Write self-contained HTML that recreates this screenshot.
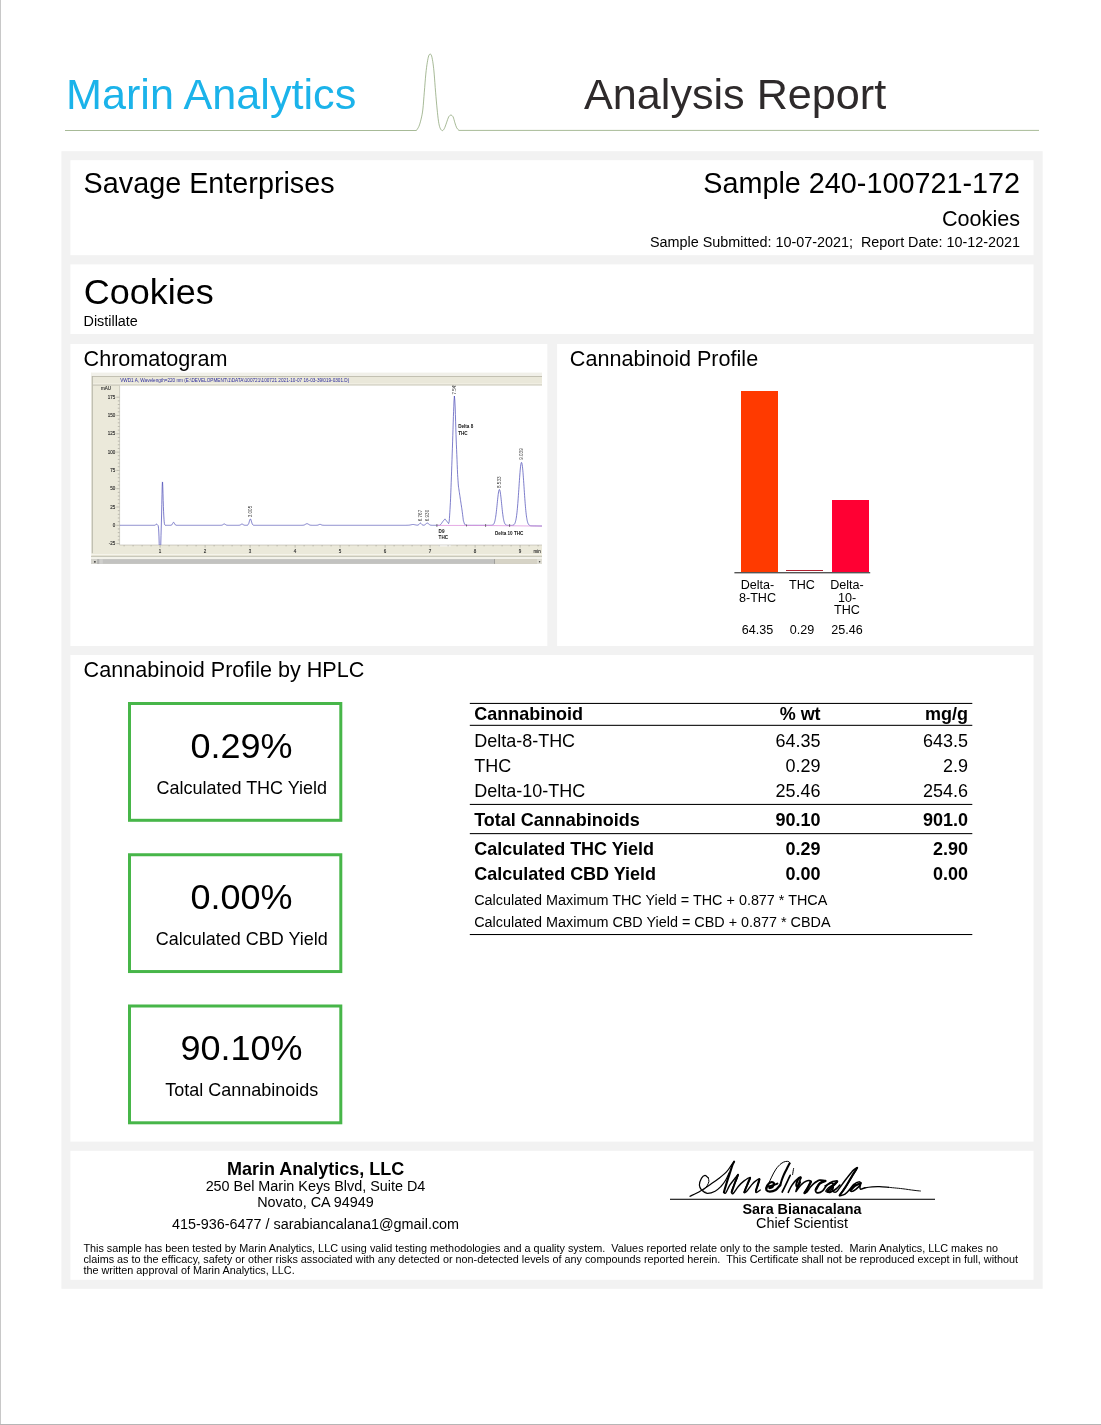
<!DOCTYPE html>
<html><head><meta charset="utf-8">
<style>
html,body{margin:0;padding:0;background:#fff;overflow:hidden;}
body{width:1101px;height:1425px;position:relative;overflow:hidden;font-family:"Liberation Sans",sans-serif;color:#000;}
.a{position:absolute;white-space:pre;line-height:1;}
#w{position:absolute;left:0;top:0;width:1101px;height:1425px;will-change:transform;overflow:hidden;}
.p{position:absolute;background:#fff;}
svg{position:absolute;overflow:visible;}
</style></head><body>
<div id="w"><svg style="left:0;top:0" width="1101" height="1425">
<rect x="0" y="0" width="1" height="1425" fill="#c8c8c8"/>
<rect x="0" y="1424" width="1101" height="1" fill="#b6b6b6"/>
<path d="M65 130.5H416.4C416.8 129.7 418.1 128.3 418.9 126.4C419.7 124.5 420.4 122.0 421.1 119.1C421.8 116.2 422.4 113.5 422.9 109.0C423.4 104.5 423.8 98.0 424.3 92.2C424.8 86.4 425.3 79.1 425.8 74.1C426.3 69.1 426.8 65.4 427.3 62.4C427.8 59.4 428.2 57.3 428.7 55.9C429.2 54.5 429.7 54.1 430.2 54.1C430.7 54.1 431.1 54.3 431.6 55.9C432.1 57.5 432.7 60.9 433.1 63.9C433.5 66.9 433.8 69.4 434.2 74.1C434.6 78.8 435.1 86.4 435.6 92.2C436.1 98.0 436.6 104.2 437.1 109.0C437.6 113.8 438.0 118.2 438.5 121.3C439.0 124.4 439.4 126.2 440.0 127.8C440.6 129.3 441.5 130.5 442.2 130.6C442.9 130.7 443.6 129.9 444.3 128.6C445.0 127.3 445.8 124.8 446.5 122.8C447.2 120.8 448.0 118.2 448.7 116.9C449.4 115.6 450.2 115.1 450.9 115.1C451.6 115.1 452.4 115.6 453.1 116.9C453.8 118.2 454.3 121.0 454.9 122.8C455.5 124.6 456.0 126.5 456.7 127.8C457.4 129.1 458.5 130.0 458.9 130.4H1039" fill="none" stroke="#7d9a66" stroke-width="0.68"/>
<rect x="61.4" y="151.2" width="981.3" height="1137.6" fill="#f2f2f2"/>
<rect x="70.4" y="160.2" width="963.1" height="95" fill="#fff"/>
<rect x="70.4" y="264.4" width="963.1" height="69.6" fill="#fff"/>
<rect x="70.4" y="344" width="476.9" height="302" fill="#fff"/>
<rect x="557.1" y="344" width="476.4" height="302" fill="#fff"/>
<rect x="70.4" y="655" width="963.1" height="486.6" fill="#fff"/>
<rect x="70.4" y="1150.8" width="963.1" height="129" fill="#fff"/>
<rect x="741" y="391" width="37" height="181" fill="#ff3a00"/>
<rect x="786" y="570" width="37" height="1" fill="#b02030"/>
<rect x="832" y="500" width="37" height="72" fill="#ff0033"/>
<rect x="734.4" y="572" width="135.8" height="1.4" fill="#555"/>
<rect x="129.5" y="703.5" width="211.3" height="116.8" fill="#fff" stroke="#47b649" stroke-width="3"/>
<rect x="129.5" y="854.75" width="211.3" height="116.8" fill="#fff" stroke="#47b649" stroke-width="3"/>
<rect x="129.5" y="1006.0" width="211.3" height="116.8" fill="#fff" stroke="#47b649" stroke-width="3"/>
<rect x="469.8" y="702.9" width="502.5" height="1.05" fill="#000"/>
<rect x="469.8" y="724.8" width="502.5" height="1.05" fill="#000"/>
<rect x="469.8" y="803.9" width="502.5" height="1.05" fill="#000"/>
<rect x="469.8" y="833.1" width="502.5" height="1.05" fill="#000"/>
<rect x="469.8" y="934.0" width="502.5" height="1.05" fill="#000"/>
<rect x="670" y="1198.75" width="265" height="1.05" fill="#000"/>
</svg>
<div class="a" style="top:72.76px;font-size:43.17px;left:66.00px;color:#1bb3ea;">Marin Analytics</div>
<div class="a" style="top:72.76px;font-size:43.17px;left:584.00px;color:#2e2a2b;">Analysis Report</div>
<div class="a" style="top:168.64px;font-size:28.78px;left:83.60px;">Savage Enterprises</div>
<div class="a" style="top:168.64px;font-size:28.78px;right:81.00px;">Sample 240-100721-172</div>
<div class="a" style="top:208.03px;font-size:21.59px;right:81.00px;">Cookies</div>
<div class="a" style="top:235.02px;font-size:14.39px;right:81.00px;">Sample Submitted: 10-07-2021;  Report Date: 10-12-2021</div>
<div class="a" style="top:274.05px;font-size:35.98px;left:83.70px;">Cookies</div>
<div class="a" style="top:313.72px;font-size:14.39px;left:83.50px;">Distillate</div>
<div class="a" style="top:348.03px;font-size:21.59px;left:83.60px;">Chromatogram</div>
<div class="a" style="top:348.03px;font-size:21.59px;left:569.80px;">Cannabinoid Profile</div>
<div class="a" style="top:659.03px;font-size:21.59px;left:83.60px;">Cannabinoid Profile by HPLC</div>
<svg style="left:90px;top:372px" width="453" height="193" viewBox="90 372 453 193" font-family="Liberation Sans, sans-serif">
<defs><filter id="bl" x="-5%" y="-5%" width="110%" height="110%"><feGaussianBlur stdDeviation="0.35"/></filter><clipPath id="cp"><rect x="119.6" y="385.6" width="422.4" height="159.4"/></clipPath></defs>
<g filter="url(#bl)">
<rect x="91" y="372.8" width="451" height="191.1" fill="#ebe9da"/>
<rect x="91" y="372.8" width="451" height="3.4" fill="#f1f0e9"/>
<rect x="91" y="376.2" width="451" height="0.9" fill="#b9b7a9"/>
<rect x="92.8" y="377.1" width="449.2" height="6.5" fill="#eae8da"/>
<rect x="92.8" y="383.6" width="449.2" height="0.9" fill="#f9f8f1"/>
<rect x="92.8" y="384.6" width="449.2" height="0.9" fill="#b9b7a9"/>
<rect x="91" y="372.8" width="0.9" height="186" fill="#f1f0e9"/>
<rect x="91.8" y="376.2" width="0.9" height="177" fill="#b0aea2"/>
<rect x="119.6" y="385.6" width="422.4" height="159.4" fill="#fff"/>
<rect x="438.2" y="545" width="12.5" height="1.3" fill="#fff"/>
<rect x="91" y="554.1" width="451" height="0.9" fill="#f6f5ee"/>
<rect x="91" y="555.9" width="451" height="0.9" fill="#b5b3a5"/>
<rect x="91" y="556.8" width="451" height="2.3" fill="#f3f2ea"/>
<rect x="91" y="559.1" width="451" height="4.8" fill="#c2c2c0"/>
<rect x="91" y="559.1" width="6.2" height="4.8" fill="#d4d3cc"/><rect x="97.2" y="559.1" width="2.2" height="4.8" fill="#b4b4b2"/><rect x="99.4" y="559.1" width="3.4" height="4.8" fill="#cfcfcc"/><circle cx="94.9" cy="561.8" r="0.9" fill="#333"/>
<rect x="494.2" y="559.1" width="43" height="4.8" fill="#d6d3c6"/><rect x="494.2" y="559.1" width="0.7" height="4.8" fill="#8a8a8a"/>
<rect x="537" y="559.1" width="5" height="4.8" fill="#e2e0d6"/><circle cx="539.6" cy="561.8" r="0.8" fill="#444"/>
<path d="M116.4 543.60H119.6M117.8 539.94H119.6M117.8 536.28H119.6M117.8 532.62H119.6M117.8 528.96H119.6M116.4 525.30H119.6M117.8 521.64H119.6M117.8 517.98H119.6M117.8 514.32H119.6M117.8 510.66H119.6M116.4 507.00H119.6M117.8 503.34H119.6M117.8 499.68H119.6M117.8 496.02H119.6M117.8 492.36H119.6M116.4 488.70H119.6M117.8 485.04H119.6M117.8 481.38H119.6M117.8 477.72H119.6M117.8 474.06H119.6M116.4 470.40H119.6M117.8 466.74H119.6M117.8 463.08H119.6M117.8 459.42H119.6M117.8 455.76H119.6M116.4 452.10H119.6M117.8 448.44H119.6M117.8 444.78H119.6M117.8 441.12H119.6M117.8 437.46H119.6M116.4 433.80H119.6M117.8 430.14H119.6M117.8 426.48H119.6M117.8 422.82H119.6M117.8 419.16H119.6M116.4 415.50H119.6M117.8 411.84H119.6M117.8 408.18H119.6M117.8 404.52H119.6M117.8 400.86H119.6M116.4 397.20H119.6M124.10 545.0v1.4M133.10 545.0v1.4M142.10 545.0v1.4M151.10 545.0v1.4M160.10 545.0v2.6M169.10 545.0v1.4M178.10 545.0v1.4M187.10 545.0v1.4M196.10 545.0v1.4M205.10 545.0v2.6M214.10 545.0v1.4M223.10 545.0v1.4M232.10 545.0v1.4M241.10 545.0v1.4M250.10 545.0v2.6M259.10 545.0v1.4M268.10 545.0v1.4M277.10 545.0v1.4M286.10 545.0v1.4M295.10 545.0v2.6M304.10 545.0v1.4M313.10 545.0v1.4M322.10 545.0v1.4M331.10 545.0v1.4M340.10 545.0v2.6M349.10 545.0v1.4M358.10 545.0v1.4M367.10 545.0v1.4M376.10 545.0v1.4M385.10 545.0v2.6M394.10 545.0v1.4M403.10 545.0v1.4M412.10 545.0v1.4M421.10 545.0v1.4M430.10 545.0v2.6M439.10 545.0v1.4M448.10 545.0v1.4M457.10 545.0v1.4M466.10 545.0v1.4M475.10 545.0v2.6M484.10 545.0v1.4M493.10 545.0v1.4M502.10 545.0v1.4M511.10 545.0v1.4M520.10 545.0v2.6M529.10 545.0v1.4M538.10 545.0v1.4" stroke="#8c8a80" stroke-width="0.5" fill="none"/>
<path d="M119.6 385.6V545.0H542.0" stroke="#a8a69a" stroke-width="0.5" fill="none"/>
<g font-size="4.5" fill="#2a2a2a" stroke="#2a2a2a" stroke-width="0.12"><text x="110.9" y="390.1" text-anchor="end">mAU</text><text x="115.2" y="398.8" text-anchor="end">175</text><text x="115.2" y="417.1" text-anchor="end">150</text><text x="115.2" y="435.4" text-anchor="end">125</text><text x="115.2" y="453.7" text-anchor="end">100</text><text x="115.2" y="472.0" text-anchor="end">75</text><text x="115.2" y="490.3" text-anchor="end">50</text><text x="115.2" y="508.6" text-anchor="end">25</text><text x="115.2" y="526.9" text-anchor="end">0</text><text x="115.2" y="545.2" text-anchor="end">-25</text><text x="159.9" y="553.2" text-anchor="middle">1</text><text x="204.9" y="553.2" text-anchor="middle">2</text><text x="249.9" y="553.2" text-anchor="middle">3</text><text x="294.9" y="553.2" text-anchor="middle">4</text><text x="339.9" y="553.2" text-anchor="middle">5</text><text x="384.9" y="553.2" text-anchor="middle">6</text><text x="429.9" y="553.2" text-anchor="middle">7</text><text x="474.9" y="553.2" text-anchor="middle">8</text><text x="519.9" y="553.2" text-anchor="middle">9</text><text x="533.6" y="553.2">min</text></g>
<text x="120.2" y="381.7" font-size="4.9" fill="#2a2a9c" textLength="229" lengthAdjust="spacingAndGlyphs">VWD1 A, Wavelength=220 nm (E:\DEVELOPMENT\1\DATA\100721\100721 2021-10-07 16-03-39\019-0301.D)</text>
<path d="M119.60 525.30 119.80 525.30 120.00 525.30 120.20 525.30 120.40 525.30 120.60 525.30 120.80 525.30 121.00 525.30 121.20 525.30 121.40 525.30 121.60 525.30 121.80 525.30 122.00 525.30 122.20 525.30 122.40 525.30 122.60 525.30 122.80 525.30 123.00 525.30 123.20 525.30 123.40 525.30 123.60 525.30 123.80 525.30 124.00 525.30 124.20 525.30 124.40 525.30 124.60 525.30 124.80 525.30 125.00 525.30 125.20 525.30 125.40 525.30 125.60 525.30 125.80 525.30 126.00 525.30 126.20 525.30 126.40 525.30 126.60 525.30 126.80 525.30 127.00 525.30 127.20 525.30 127.40 525.30 127.60 525.30 127.80 525.30 128.00 525.30 128.20 525.30 128.40 525.30 128.60 525.30 128.80 525.30 129.00 525.30 129.20 525.30 129.40 525.30 129.60 525.30 129.80 525.30 130.00 525.30 130.20 525.30 130.40 525.30 130.60 525.30 130.80 525.30 131.00 525.30 131.20 525.30 131.40 525.30 131.60 525.30 131.80 525.30 132.00 525.30 132.20 525.30 132.40 525.30 132.60 525.30 132.80 525.30 133.00 525.30 133.20 525.30 133.40 525.30 133.60 525.30 133.80 525.30 134.00 525.30 134.20 525.30 134.40 525.30 134.60 525.30 134.80 525.30 135.00 525.30 135.20 525.30 135.40 525.30 135.60 525.30 135.80 525.30 136.00 525.30 136.20 525.30 136.40 525.30 136.60 525.30 136.80 525.30 137.00 525.30 137.20 525.30 137.40 525.30 137.60 525.30 137.80 525.30 138.00 525.30 138.20 525.30 138.40 525.30 138.60 525.30 138.80 525.30 139.00 525.30 139.20 525.30 139.40 525.30 139.60 525.30 139.80 525.30 140.00 525.30 140.20 525.30 140.40 525.30 140.60 525.30 140.80 525.30 141.00 525.30 141.20 525.30 141.40 525.30 141.60 525.30 141.80 525.30 142.00 525.30 142.20 525.30 142.40 525.30 142.60 525.30 142.80 525.30 143.00 525.30 143.20 525.30 143.40 525.30 143.60 525.30 143.80 525.30 144.00 525.30 144.20 525.30 144.40 525.30 144.60 525.30 144.80 525.30 145.00 525.30 145.20 525.30 145.40 525.30 145.60 525.30 145.80 525.30 146.00 525.30 146.20 525.30 146.40 525.30 146.60 525.30 146.80 525.30 147.00 525.30 147.20 525.30 147.40 525.30 147.60 525.30 147.80 525.30 148.00 525.30 148.20 525.30 148.40 525.30 148.60 525.30 148.80 525.30 149.00 525.30 149.20 525.30 149.40 525.30 149.60 525.30 149.80 525.30 150.00 525.30 150.20 525.30 150.40 525.30 150.60 525.30 150.80 525.30 151.00 525.30 151.20 525.30 151.40 525.30 151.60 525.30 151.80 525.30 152.00 525.30 152.20 525.30 152.40 525.30 152.60 525.30 152.80 525.30 153.00 525.30 153.20 525.30 153.40 525.30 153.60 525.30 153.80 525.30 154.00 525.30 154.20 525.30 154.40 525.29 154.60 525.28 154.80 525.25 155.00 525.21 155.20 525.13 155.40 525.02 155.60 524.86 155.80 524.67 156.00 524.46 156.20 524.28 156.40 524.15 156.60 524.10 156.80 524.15 157.00 524.28 157.20 524.47 157.40 524.68 157.60 524.89 157.80 525.12 158.00 525.42 158.20 525.94 158.40 526.95 158.60 528.84 158.80 532.05 159.00 536.93 159.20 543.45 159.40 550.95 159.60 558.13 159.80 563.37 160.00 565.30 160.20 563.37 160.40 558.10 160.60 550.82 160.80 543.03 161.00 535.71 161.20 528.96 161.40 522.05 161.60 514.04 161.80 504.58 162.00 494.63 162.20 486.34 162.40 481.95 162.60 482.47 162.80 487.09 163.00 493.78 163.20 500.66 163.40 506.73 163.60 511.78 163.80 515.95 164.00 519.30 164.20 521.79 164.40 523.46 164.60 524.44 164.80 524.94 165.00 525.17 165.20 525.26 165.40 525.29 165.60 525.30 165.80 525.30 166.00 525.30 166.20 525.30 166.40 525.30 166.60 525.30 166.80 525.30 167.00 525.30 167.20 525.30 167.40 525.30 167.60 525.30 167.80 525.30 168.00 525.30 168.20 525.30 168.40 525.30 168.60 525.30 168.80 525.30 169.00 525.30 169.20 525.30 169.40 525.30 169.60 525.30 169.80 525.30 170.00 525.30 170.20 525.30 170.40 525.29 170.60 525.29 170.80 525.27 171.00 525.25 171.20 525.20 171.40 525.13 171.60 525.02 171.80 524.86 172.00 524.64 172.20 524.36 172.40 524.02 172.60 523.64 172.80 523.25 173.00 522.88 173.20 522.57 173.40 522.37 173.60 522.30 173.80 522.37 174.00 522.57 174.20 522.88 174.40 523.25 174.60 523.64 174.80 524.02 175.00 524.36 175.20 524.64 175.40 524.86 175.60 525.02 175.80 525.13 176.00 525.20 176.20 525.25 176.40 525.27 176.60 525.29 176.80 525.29 177.00 525.30 177.20 525.30 177.40 525.30 177.60 525.30 177.80 525.30 178.00 525.30 178.20 525.30 178.40 525.30 178.60 525.30 178.80 525.30 179.00 525.30 179.20 525.30 179.40 525.30 179.60 525.30 179.80 525.30 180.00 525.30 180.20 525.30 180.40 525.30 180.60 525.30 180.80 525.30 181.00 525.30 181.20 525.30 181.40 525.30 181.60 525.30 181.80 525.30 182.00 525.30 182.20 525.30 182.40 525.30 182.60 525.30 182.80 525.30 183.00 525.30 183.20 525.30 183.40 525.30 183.60 525.30 183.80 525.30 184.00 525.30 184.20 525.30 184.40 525.30 184.60 525.30 184.80 525.30 185.00 525.30 185.20 525.30 185.40 525.30 185.60 525.30 185.80 525.30 186.00 525.30 186.20 525.30 186.40 525.30 186.60 525.30 186.80 525.30 187.00 525.30 187.20 525.30 187.40 525.30 187.60 525.30 187.80 525.30 188.00 525.30 188.20 525.30 188.40 525.30 188.60 525.30 188.80 525.30 189.00 525.30 189.20 525.30 189.40 525.30 189.60 525.30 189.80 525.30 190.00 525.30 190.20 525.30 190.40 525.30 190.60 525.30 190.80 525.30 191.00 525.30 191.20 525.30 191.40 525.30 191.60 525.30 191.80 525.30 192.00 525.30 192.20 525.30 192.40 525.30 192.60 525.30 192.80 525.30 193.00 525.30 193.20 525.30 193.40 525.30 193.60 525.30 193.80 525.30 194.00 525.30 194.20 525.30 194.40 525.30 194.60 525.30 194.80 525.30 195.00 525.30 195.20 525.30 195.40 525.30 195.60 525.30 195.80 525.30 196.00 525.30 196.20 525.30 196.40 525.30 196.60 525.30 196.80 525.30 197.00 525.30 197.20 525.30 197.40 525.30 197.60 525.30 197.80 525.30 198.00 525.30 198.20 525.30 198.40 525.30 198.60 525.30 198.80 525.30 199.00 525.30 199.20 525.30 199.40 525.30 199.60 525.30 199.80 525.30 200.00 525.30 200.20 525.30 200.40 525.30 200.60 525.30 200.80 525.30 201.00 525.30 201.20 525.30 201.40 525.30 201.60 525.30 201.80 525.30 202.00 525.30 202.20 525.30 202.40 525.30 202.60 525.30 202.80 525.30 203.00 525.30 203.20 525.30 203.40 525.30 203.60 525.30 203.80 525.30 204.00 525.30 204.20 525.30 204.40 525.30 204.60 525.30 204.80 525.30 205.00 525.30 205.20 525.30 205.40 525.30 205.60 525.30 205.80 525.30 206.00 525.30 206.20 525.30 206.40 525.30 206.60 525.30 206.80 525.30 207.00 525.30 207.20 525.30 207.40 525.30 207.60 525.30 207.80 525.30 208.00 525.30 208.20 525.30 208.40 525.30 208.60 525.30 208.80 525.30 209.00 525.30 209.20 525.30 209.40 525.30 209.60 525.30 209.80 525.30 210.00 525.30 210.20 525.30 210.40 525.30 210.60 525.30 210.80 525.30 211.00 525.30 211.20 525.30 211.40 525.30 211.60 525.30 211.80 525.30 212.00 525.30 212.20 525.30 212.40 525.30 212.60 525.30 212.80 525.30 213.00 525.30 213.20 525.30 213.40 525.30 213.60 525.30 213.80 525.30 214.00 525.30 214.20 525.30 214.40 525.30 214.60 525.30 214.80 525.30 215.00 525.30 215.20 525.30 215.40 525.30 215.60 525.30 215.80 525.30 216.00 525.30 216.20 525.30 216.40 525.30 216.60 525.30 216.80 525.30 217.00 525.30 217.20 525.30 217.40 525.30 217.60 525.30 217.80 525.30 218.00 525.30 218.20 525.30 218.40 525.30 218.60 525.30 218.80 525.30 219.00 525.30 219.20 525.30 219.40 525.30 219.60 525.30 219.80 525.30 220.00 525.30 220.20 525.30 220.40 525.30 220.60 525.29 220.80 525.29 221.00 525.28 221.20 525.27 221.40 525.25 221.60 525.22 221.80 525.19 222.00 525.14 222.20 525.07 222.40 524.98 222.60 524.88 222.80 524.76 223.00 524.63 223.20 524.49 223.40 524.35 223.60 524.23 223.80 524.12 224.00 524.04 224.20 524.01 224.40 524.01 224.60 524.04 224.80 524.12 225.00 524.23 225.20 524.35 225.40 524.49 225.60 524.63 225.80 524.76 226.00 524.88 226.20 524.98 226.40 525.07 226.60 525.14 226.80 525.19 227.00 525.22 227.20 525.25 227.40 525.27 227.60 525.28 227.80 525.29 228.00 525.29 228.20 525.30 228.40 525.30 228.60 525.30 228.80 525.30 229.00 525.30 229.20 525.30 229.40 525.30 229.60 525.30 229.80 525.30 230.00 525.30 230.20 525.30 230.40 525.30 230.60 525.30 230.80 525.30 231.00 525.30 231.20 525.30 231.40 525.30 231.60 525.30 231.80 525.30 232.00 525.30 232.20 525.30 232.40 525.30 232.60 525.30 232.80 525.30 233.00 525.30 233.20 525.30 233.40 525.30 233.60 525.30 233.80 525.30 234.00 525.30 234.20 525.30 234.40 525.30 234.60 525.30 234.80 525.30 235.00 525.30 235.20 525.30 235.40 525.30 235.60 525.30 235.80 525.30 236.00 525.30 236.20 525.30 236.40 525.30 236.60 525.30 236.80 525.30 237.00 525.30 237.20 525.30 237.40 525.30 237.60 525.30 237.80 525.30 238.00 525.30 238.20 525.30 238.40 525.29 238.60 525.29 238.80 525.28 239.00 525.26 239.20 525.24 239.40 525.21 239.60 525.17 239.80 525.12 240.00 525.05 240.20 524.96 240.40 524.86 240.60 524.74 240.80 524.62 241.00 524.49 241.20 524.37 241.40 524.26 241.60 524.17 241.80 524.12 242.00 524.10 242.20 524.12 242.40 524.17 242.60 524.26 242.80 524.37 243.00 524.49 243.20 524.62 243.40 524.74 243.60 524.86 243.80 524.96 244.00 525.05 244.20 525.12 244.40 525.17 244.60 525.21 244.80 525.24 245.00 525.26 245.20 525.28 245.40 525.29 245.60 525.29 245.80 525.30 246.00 525.30 246.20 525.30 246.40 525.29 246.60 525.29 246.80 525.28 247.00 525.26 247.20 525.23 247.40 525.18 247.60 525.11 247.80 524.99 248.00 524.81 248.20 524.57 248.40 524.24 248.60 523.81 248.80 523.28 249.00 522.66 249.20 521.98 249.40 521.26 249.60 520.56 249.80 519.93 250.00 519.43 250.20 519.11 250.40 519.00 250.60 519.11 250.80 519.43 251.00 519.93 251.20 520.56 251.40 521.26 251.60 521.98 251.80 522.66 252.00 523.28 252.20 523.81 252.40 524.24 252.60 524.57 252.80 524.81 253.00 524.99 253.20 525.11 253.40 525.18 253.60 525.23 253.80 525.26 254.00 525.28 254.20 525.29 254.40 525.29 254.60 525.30 254.80 525.30 255.00 525.30 255.20 525.30 255.40 525.30 255.60 525.30 255.80 525.30 256.00 525.30 256.20 525.30 256.40 525.30 256.60 525.30 256.80 525.30 257.00 525.30 257.20 525.30 257.40 525.30 257.60 525.30 257.80 525.30 258.00 525.30 258.20 525.30 258.40 525.30 258.60 525.30 258.80 525.30 259.00 525.30 259.20 525.30 259.40 525.30 259.60 525.30 259.80 525.30 260.00 525.30 260.20 525.30 260.40 525.30 260.60 525.30 260.80 525.30 261.00 525.30 261.20 525.30 261.40 525.30 261.60 525.30 261.80 525.30 262.00 525.30 262.20 525.30 262.40 525.30 262.60 525.30 262.80 525.30 263.00 525.30 263.20 525.30 263.40 525.30 263.60 525.30 263.80 525.30 264.00 525.30 264.20 525.30 264.40 525.30 264.60 525.30 264.80 525.30 265.00 525.30 265.20 525.30 265.40 525.30 265.60 525.30 265.80 525.30 266.00 525.30 266.20 525.30 266.40 525.30 266.60 525.30 266.80 525.30 267.00 525.30 267.20 525.30 267.40 525.30 267.60 525.30 267.80 525.30 268.00 525.30 268.20 525.30 268.40 525.30 268.60 525.30 268.80 525.30 269.00 525.30 269.20 525.30 269.40 525.30 269.60 525.30 269.80 525.30 270.00 525.30 270.20 525.30 270.40 525.30 270.60 525.30 270.80 525.30 271.00 525.30 271.20 525.30 271.40 525.30 271.60 525.30 271.80 525.30 272.00 525.30 272.20 525.30 272.40 525.30 272.60 525.30 272.80 525.30 273.00 525.30 273.20 525.30 273.40 525.30 273.60 525.30 273.80 525.30 274.00 525.30 274.20 525.30 274.40 525.30 274.60 525.30 274.80 525.30 275.00 525.30 275.20 525.30 275.40 525.30 275.60 525.30 275.80 525.30 276.00 525.30 276.20 525.30 276.40 525.30 276.60 525.30 276.80 525.30 277.00 525.30 277.20 525.30 277.40 525.30 277.60 525.30 277.80 525.30 278.00 525.30 278.20 525.30 278.40 525.30 278.60 525.30 278.80 525.30 279.00 525.30 279.20 525.30 279.40 525.30 279.60 525.30 279.80 525.30 280.00 525.30 280.20 525.30 280.40 525.30 280.60 525.30 280.80 525.30 281.00 525.30 281.20 525.30 281.40 525.30 281.60 525.30 281.80 525.30 282.00 525.30 282.20 525.30 282.40 525.30 282.60 525.30 282.80 525.30 283.00 525.30 283.20 525.30 283.40 525.30 283.60 525.30 283.80 525.30 284.00 525.30 284.20 525.30 284.40 525.30 284.60 525.30 284.80 525.30 285.00 525.30 285.20 525.30 285.40 525.30 285.60 525.30 285.80 525.30 286.00 525.30 286.20 525.30 286.40 525.30 286.60 525.30 286.80 525.30 287.00 525.30 287.20 525.30 287.40 525.30 287.60 525.30 287.80 525.30 288.00 525.30 288.20 525.30 288.40 525.30 288.60 525.30 288.80 525.30 289.00 525.30 289.20 525.30 289.40 525.30 289.60 525.30 289.80 525.30 290.00 525.30 290.20 525.30 290.40 525.30 290.60 525.30 290.80 525.30 291.00 525.30 291.20 525.30 291.40 525.30 291.60 525.30 291.80 525.30 292.00 525.30 292.20 525.30 292.40 525.30 292.60 525.30 292.80 525.30 293.00 525.30 293.20 525.30 293.40 525.30 293.60 525.30 293.80 525.30 294.00 525.30 294.20 525.30 294.40 525.30 294.60 525.30 294.80 525.30 295.00 525.30 295.20 525.30 295.40 525.30 295.60 525.30 295.80 525.30 296.00 525.30 296.20 525.30 296.40 525.30 296.60 525.30 296.80 525.30 297.00 525.30 297.20 525.30 297.40 525.30 297.60 525.30 297.80 525.30 298.00 525.30 298.20 525.30 298.40 525.30 298.60 525.30 298.80 525.30 299.00 525.30 299.20 525.30 299.40 525.30 299.60 525.30 299.80 525.30 300.00 525.30 300.20 525.30 300.40 525.30 300.60 525.30 300.80 525.30 301.00 525.30 301.20 525.30 301.40 525.30 301.60 525.30 301.80 525.29 302.00 525.29 302.20 525.29 302.40 525.28 302.60 525.27 302.80 525.26 303.00 525.24 303.20 525.22 303.40 525.19 303.60 525.15 303.80 525.11 304.00 525.05 304.20 524.98 304.40 524.90 304.60 524.81 304.80 524.71 305.00 524.60 305.20 524.48 305.40 524.36 305.60 524.23 305.80 524.11 306.00 524.00 306.20 523.90 306.40 523.81 306.60 523.75 306.80 523.71 307.00 523.70 307.20 523.71 307.40 523.75 307.60 523.81 307.80 523.90 308.00 524.00 308.20 524.11 308.40 524.23 308.60 524.36 308.80 524.48 309.00 524.60 309.20 524.71 309.40 524.81 309.60 524.90 309.80 524.98 310.00 525.05 310.20 525.11 310.40 525.15 310.60 525.19 310.80 525.22 311.00 525.24 311.20 525.26 311.40 525.27 311.60 525.28 311.80 525.29 312.00 525.29 312.20 525.29 312.40 525.30 312.60 525.30 312.80 525.30 313.00 525.30 313.20 525.30 313.40 525.30 313.60 525.30 313.80 525.30 314.00 525.30 314.20 525.30 314.40 525.30 314.60 525.30 314.80 525.30 315.00 525.30 315.20 525.30 315.40 525.30 315.60 525.30 315.80 525.30 316.00 525.29 316.20 525.29 316.40 525.28 316.60 525.27 316.80 525.26 317.00 525.24 317.20 525.22 317.40 525.19 317.60 525.15 317.80 525.10 318.00 525.04 318.20 524.97 318.40 524.89 318.60 524.81 318.80 524.72 319.00 524.64 319.20 524.56 319.40 524.49 319.60 524.44 319.80 524.41 320.00 524.40 320.20 524.41 320.40 524.44 320.60 524.49 320.80 524.56 321.00 524.64 321.20 524.72 321.40 524.81 321.60 524.89 321.80 524.97 322.00 525.04 322.20 525.10 322.40 525.15 322.60 525.19 322.80 525.22 323.00 525.24 323.20 525.26 323.40 525.27 323.60 525.28 323.80 525.29 324.00 525.29 324.20 525.30 324.40 525.30 324.60 525.30 324.80 525.30 325.00 525.30 325.20 525.30 325.40 525.30 325.60 525.30 325.80 525.30 326.00 525.30 326.20 525.30 326.40 525.30 326.60 525.30 326.80 525.30 327.00 525.30 327.20 525.30 327.40 525.30 327.60 525.30 327.80 525.30 328.00 525.30 328.20 525.30 328.40 525.30 328.60 525.30 328.80 525.30 329.00 525.30 329.20 525.30 329.40 525.30 329.60 525.30 329.80 525.30 330.00 525.30 330.20 525.30 330.40 525.30 330.60 525.30 330.80 525.30 331.00 525.30 331.20 525.30 331.40 525.30 331.60 525.30 331.80 525.30 332.00 525.30 332.20 525.30 332.40 525.30 332.60 525.30 332.80 525.30 333.00 525.30 333.20 525.30 333.40 525.30 333.60 525.30 333.80 525.30 334.00 525.30 334.20 525.30 334.40 525.30 334.60 525.30 334.80 525.30 335.00 525.30 335.20 525.30 335.40 525.30 335.60 525.30 335.80 525.30 336.00 525.30 336.20 525.30 336.40 525.30 336.60 525.30 336.80 525.30 337.00 525.30 337.20 525.30 337.40 525.30 337.60 525.30 337.80 525.30 338.00 525.30 338.20 525.30 338.40 525.30 338.60 525.30 338.80 525.30 339.00 525.30 339.20 525.30 339.40 525.30 339.60 525.30 339.80 525.30 340.00 525.30 340.20 525.30 340.40 525.30 340.60 525.30 340.80 525.30 341.00 525.30 341.20 525.30 341.40 525.30 341.60 525.30 341.80 525.30 342.00 525.30 342.20 525.30 342.40 525.30 342.60 525.30 342.80 525.30 343.00 525.30 343.20 525.30 343.40 525.30 343.60 525.30 343.80 525.30 344.00 525.30 344.20 525.30 344.40 525.30 344.60 525.30 344.80 525.30 345.00 525.30 345.20 525.30 345.40 525.30 345.60 525.30 345.80 525.30 346.00 525.30 346.20 525.30 346.40 525.30 346.60 525.30 346.80 525.30 347.00 525.30 347.20 525.30 347.40 525.30 347.60 525.30 347.80 525.30 348.00 525.30 348.20 525.30 348.40 525.30 348.60 525.30 348.80 525.30 349.00 525.30 349.20 525.30 349.40 525.30 349.60 525.30 349.80 525.30 350.00 525.30 350.20 525.30 350.40 525.30 350.60 525.30 350.80 525.30 351.00 525.30 351.20 525.30 351.40 525.30 351.60 525.30 351.80 525.30 352.00 525.30 352.20 525.30 352.40 525.30 352.60 525.30 352.80 525.30 353.00 525.30 353.20 525.30 353.40 525.30 353.60 525.30 353.80 525.30 354.00 525.30 354.20 525.30 354.40 525.30 354.60 525.30 354.80 525.30 355.00 525.30 355.20 525.30 355.40 525.30 355.60 525.30 355.80 525.30 356.00 525.30 356.20 525.30 356.40 525.30 356.60 525.30 356.80 525.30 357.00 525.30 357.20 525.30 357.40 525.30 357.60 525.30 357.80 525.30 358.00 525.30 358.20 525.30 358.40 525.30 358.60 525.30 358.80 525.30 359.00 525.30 359.20 525.30 359.40 525.30 359.60 525.30 359.80 525.30 360.00 525.30 360.20 525.30 360.40 525.30 360.60 525.30 360.80 525.30 361.00 525.30 361.20 525.30 361.40 525.30 361.60 525.30 361.80 525.30 362.00 525.30 362.20 525.30 362.40 525.30 362.60 525.30 362.80 525.30 363.00 525.30 363.20 525.30 363.40 525.30 363.60 525.30 363.80 525.30 364.00 525.30 364.20 525.30 364.40 525.30 364.60 525.30 364.80 525.30 365.00 525.30 365.20 525.30 365.40 525.30 365.60 525.30 365.80 525.30 366.00 525.30 366.20 525.30 366.40 525.30 366.60 525.30 366.80 525.30 367.00 525.30 367.20 525.30 367.40 525.30 367.60 525.30 367.80 525.30 368.00 525.30 368.20 525.30 368.40 525.30 368.60 525.30 368.80 525.30 369.00 525.30 369.20 525.30 369.40 525.30 369.60 525.30 369.80 525.30 370.00 525.30 370.20 525.30 370.40 525.30 370.60 525.30 370.80 525.30 371.00 525.30 371.20 525.30 371.40 525.30 371.60 525.30 371.80 525.30 372.00 525.30 372.20 525.30 372.40 525.30 372.60 525.30 372.80 525.30 373.00 525.30 373.20 525.30 373.40 525.30 373.60 525.30 373.80 525.30 374.00 525.30 374.20 525.30 374.40 525.30 374.60 525.30 374.80 525.30 375.00 525.30 375.20 525.30 375.40 525.30 375.60 525.30 375.80 525.30 376.00 525.30 376.20 525.30 376.40 525.30 376.60 525.30 376.80 525.30 377.00 525.30 377.20 525.30 377.40 525.30 377.60 525.30 377.80 525.30 378.00 525.30 378.20 525.30 378.40 525.30 378.60 525.30 378.80 525.30 379.00 525.30 379.20 525.30 379.40 525.30 379.60 525.30 379.80 525.30 380.00 525.30 380.20 525.30 380.40 525.30 380.60 525.30 380.80 525.30 381.00 525.30 381.20 525.30 381.40 525.30 381.60 525.30 381.80 525.30 382.00 525.30 382.20 525.30 382.40 525.30 382.60 525.30 382.80 525.30 383.00 525.30 383.20 525.30 383.40 525.30 383.60 525.30 383.80 525.30 384.00 525.30 384.20 525.30 384.40 525.30 384.60 525.30 384.80 525.30 385.00 525.30 385.20 525.30 385.40 525.30 385.60 525.30 385.80 525.30 386.00 525.30 386.20 525.30 386.40 525.30 386.60 525.30 386.80 525.30 387.00 525.30 387.20 525.30 387.40 525.30 387.60 525.30 387.80 525.30 388.00 525.30 388.20 525.30 388.40 525.30 388.60 525.30 388.80 525.30 389.00 525.30 389.20 525.30 389.40 525.30 389.60 525.30 389.80 525.30 390.00 525.30 390.20 525.30 390.40 525.30 390.60 525.30 390.80 525.30 391.00 525.30 391.20 525.30 391.40 525.30 391.60 525.30 391.80 525.30 392.00 525.30 392.20 525.30 392.40 525.30 392.60 525.30 392.80 525.30 393.00 525.30 393.20 525.30 393.40 525.30 393.60 525.30 393.80 525.30 394.00 525.30 394.20 525.30 394.40 525.30 394.60 525.30 394.80 525.30 395.00 525.30 395.20 525.30 395.40 525.30 395.60 525.30 395.80 525.30 396.00 525.30 396.20 525.30 396.40 525.30 396.60 525.30 396.80 525.30 397.00 525.30 397.20 525.30 397.40 525.30 397.60 525.30 397.80 525.30 398.00 525.30 398.20 525.30 398.40 525.30 398.60 525.30 398.80 525.30 399.00 525.30 399.20 525.30 399.40 525.30 399.60 525.30 399.80 525.30 400.00 525.30 400.20 525.30 400.40 525.30 400.60 525.30 400.80 525.30 401.00 525.30 401.20 525.30 401.40 525.30 401.60 525.30 401.80 525.30 402.00 525.30 402.20 525.30 402.40 525.30 402.60 525.30 402.80 525.30 403.00 525.30 403.20 525.30 403.40 525.30 403.60 525.30 403.80 525.30 404.00 525.30 404.20 525.30 404.40 525.30 404.60 525.30 404.80 525.30 405.00 525.30 405.20 525.30 405.40 525.30 405.60 525.30 405.80 525.30 406.00 525.30 406.20 525.30 406.40 525.29 406.60 525.29 406.80 525.29 407.00 525.29 407.20 525.28 407.40 525.28 407.60 525.27 407.80 525.26 408.00 525.25 408.20 525.24 408.40 525.22 408.60 525.21 408.80 525.19 409.00 525.16 409.20 525.14 409.40 525.11 409.60 525.08 409.80 525.04 410.00 525.01 410.20 524.97 410.40 524.92 410.60 524.88 410.80 524.83 411.00 524.79 411.20 524.74 411.40 524.70 411.60 524.66 411.80 524.62 412.00 524.58 412.20 524.55 412.40 524.53 412.60 524.51 412.80 524.50 413.00 524.50 413.20 524.50 413.40 524.51 413.60 524.53 413.80 524.55 414.00 524.58 414.20 524.62 414.40 524.66 414.60 524.70 414.80 524.74 415.00 524.79 415.20 524.83 415.40 524.88 415.60 524.92 415.80 524.97 416.00 525.01 416.20 525.04 416.40 525.08 416.60 525.11 416.80 525.13 417.00 525.15 417.20 525.16 417.40 525.17 417.60 525.16 417.80 525.13 418.00 525.08 418.20 525.00 418.40 524.90 418.60 524.75 418.80 524.58 419.00 524.36 419.20 524.13 419.40 523.88 419.60 523.64 419.80 523.42 420.00 523.25 420.20 523.14 420.40 523.10 420.60 523.14 420.80 523.25 421.00 523.42 421.20 523.64 421.40 523.89 421.60 524.14 421.80 524.38 422.00 524.59 422.20 524.78 422.40 524.92 422.60 525.04 422.80 525.12 423.00 525.17 423.20 525.20 423.40 525.21 423.60 525.20 423.80 525.18 424.00 525.15 424.20 525.10 424.40 525.03 424.60 524.94 424.80 524.84 425.00 524.71 425.20 524.57 425.40 524.41 425.60 524.23 425.80 524.05 426.00 523.86 426.20 523.67 426.40 523.50 426.60 523.35 426.80 523.23 427.00 523.15 427.20 523.11 427.40 523.11 427.60 523.15 427.80 523.23 428.00 523.35 428.20 523.50 428.40 523.67 428.60 523.86 428.80 524.05 429.00 524.23 429.20 524.41 429.40 524.57 429.60 524.71 429.80 524.84 430.00 524.94 430.20 525.03 430.40 525.10 430.60 525.16 430.80 525.20 431.00 525.23 431.20 525.25 431.40 525.27 431.60 525.28 431.80 525.29 432.00 525.29 432.20 525.29 432.40 525.30 432.60 525.30 432.80 525.30 433.00 525.30 433.20 525.30 433.40 525.30 433.60 525.30 433.80 525.30 434.00 525.30 434.20 525.30 434.40 525.30 434.60 525.30 434.80 525.30 435.00 525.30 435.20 525.30 435.40 525.30 435.60 525.30 435.80 525.30 436.00 525.30 436.20 525.30 436.40 525.30 436.60 525.30 436.80 525.30 437.00 525.30 437.20 525.30 437.40 525.30 437.60 525.30 437.80 525.30 438.00 525.30 438.20 525.30 438.40 525.30 438.60 525.30 438.80 525.30 439.00 525.30 439.20 525.30 439.40 525.30 439.60 525.30 439.80 525.22 440.00 525.05 440.20 524.88 440.40 524.71 440.60 524.54 440.80 524.37 441.00 524.20 441.20 523.90 441.40 523.60 441.60 523.30 441.80 523.00 442.00 522.70 442.20 522.40 442.40 522.10 442.60 521.80 442.80 521.50 443.00 521.20 443.20 520.97 443.40 520.74 443.60 520.51 443.80 520.28 444.00 520.05 444.20 519.82 444.40 519.59 444.60 519.36 444.80 519.13 445.00 518.90 445.20 519.16 445.40 519.42 445.60 519.68 445.80 519.94 446.00 520.20 446.20 520.46 446.40 520.72 446.60 520.98 446.80 521.24 447.00 521.50 447.20 521.76 447.40 522.02 447.60 522.29 447.80 522.55 448.00 522.81 448.20 523.07 448.40 523.34 448.60 523.60 448.80 522.90 449.00 522.20 449.20 521.50 449.40 518.70 449.60 515.90 449.80 512.79 450.00 509.36 450.20 505.94 450.40 502.51 450.60 498.16 450.80 492.89 451.00 487.61 451.20 482.34 451.40 476.84 451.60 471.11 451.80 465.38 452.00 459.65 452.20 453.93 452.40 448.20 452.60 441.88 452.80 435.56 453.00 429.24 453.20 422.92 453.40 416.60 453.60 411.40 453.80 406.20 454.00 401.00 454.20 398.50 454.40 396.00 454.60 398.00 454.80 400.00 455.00 404.00 455.20 408.00 455.40 414.58 455.60 421.16 455.80 427.73 456.00 434.31 456.20 440.01 456.40 444.84 456.60 449.67 456.80 454.50 457.00 459.50 457.20 464.50 457.40 469.50 457.60 474.50 457.80 477.37 458.00 480.25 458.20 483.12 458.40 486.00 458.60 487.34 458.80 488.67 459.00 490.01 459.20 491.35 459.40 492.68 459.60 494.02 459.80 495.36 460.00 496.69 460.20 498.03 460.40 499.36 460.60 500.69 460.80 502.02 461.00 503.34 461.20 504.67 461.40 505.99 461.60 507.32 461.80 508.65 462.00 509.97 462.20 511.30 462.40 512.88 462.60 514.47 462.80 516.05 463.00 517.63 463.20 519.22 463.40 520.80 463.60 521.38 463.80 521.97 464.00 522.55 464.20 523.13 464.40 523.72 464.60 524.30 464.80 524.40 465.00 524.50 465.20 524.60 465.40 524.70 465.60 524.80 465.80 524.90 466.00 525.00 466.20 525.10 466.40 525.20 466.60 525.30 466.80 525.30 467.00 525.30 467.20 525.30 467.40 525.30 467.60 525.30 467.80 525.30 468.00 525.30 468.20 525.30 468.40 525.30 468.60 525.30 468.80 525.30 469.00 525.30 469.20 525.30 469.40 525.30 469.60 525.30 469.80 525.30 470.00 525.30 470.20 525.30 470.40 525.30 470.60 525.30 470.80 525.30 471.00 525.30 471.20 525.30 471.40 525.30 471.60 525.30 471.80 525.30 472.00 525.30 472.20 525.30 472.40 525.30 472.60 525.30 472.80 525.30 473.00 525.30 473.20 525.30 473.40 525.30 473.60 525.30 473.80 525.30 474.00 525.30 474.20 525.30 474.40 525.30 474.60 525.30 474.80 525.30 475.00 525.30 475.20 525.30 475.40 525.30 475.60 525.30 475.80 525.30 476.00 525.30 476.20 525.30 476.40 525.30 476.60 525.30 476.80 525.30 477.00 525.30 477.20 525.30 477.40 525.30 477.60 525.30 477.80 525.30 478.00 525.30 478.20 525.30 478.40 525.30 478.60 525.30 478.80 525.30 479.00 525.30 479.20 525.30 479.40 525.30 479.60 525.30 479.80 525.30 480.00 525.30 480.20 525.30 480.40 525.30 480.60 525.30 480.80 525.30 481.00 525.30 481.20 525.30 481.40 525.30 481.60 525.30 481.80 525.30 482.00 525.30 482.20 525.30 482.40 525.30 482.60 525.30 482.80 525.30 483.00 525.30 483.20 525.30 483.40 525.30 483.60 525.30 483.80 525.30 484.00 525.30 484.20 525.30 484.40 525.30 484.60 525.30 484.80 525.30 485.00 525.30 485.20 525.30 485.40 525.30 485.60 525.30 485.80 525.30 486.00 525.30 486.20 525.30 486.40 525.30 486.60 525.30 486.80 525.30 487.00 525.30 487.20 525.30 487.40 525.30 487.60 525.30 487.80 525.30 488.00 525.30 488.20 525.30 488.40 525.30 488.60 525.30 488.80 525.30 489.00 525.30 489.20 525.30 489.40 525.30 489.60 525.30 489.80 525.30 490.00 525.30 490.20 525.29 490.40 525.29 490.60 525.29 490.80 525.28 491.00 525.28 491.20 525.27 491.40 525.25 491.60 525.24 491.80 525.21 492.00 525.18 492.20 525.14 492.40 525.08 492.60 525.01 492.80 524.92 493.00 524.80 493.20 524.64 493.40 524.45 493.60 524.22 493.80 523.93 494.00 523.58 494.20 523.15 494.40 522.64 494.60 522.04 494.80 521.34 495.00 520.53 495.20 519.59 495.40 518.53 495.60 517.33 495.80 516.01 496.00 514.55 496.20 512.97 496.40 511.27 496.60 509.47 496.80 507.58 497.00 505.64 497.20 503.67 497.40 501.69 497.60 499.75 497.80 497.87 498.00 496.11 498.20 494.48 498.40 493.04 498.60 491.81 498.80 490.82 499.00 490.09 499.20 489.65 499.40 489.50 499.60 489.65 499.80 490.09 500.00 490.82 500.20 491.81 500.40 493.04 500.60 494.48 500.80 496.11 501.00 497.87 501.20 499.75 501.40 501.69 501.60 503.67 501.80 505.64 502.00 507.58 502.20 509.47 502.40 511.27 502.60 512.97 502.80 514.55 503.00 516.01 503.20 517.33 503.40 518.53 503.60 519.59 503.80 520.53 504.00 521.34 504.20 522.04 504.40 522.64 504.60 523.15 504.80 523.58 505.00 523.93 505.20 524.22 505.40 524.46 505.60 524.66 505.80 524.81 506.00 524.94 506.20 525.03 506.40 525.11 506.60 525.17 506.80 525.22 507.00 525.25 507.20 525.28 507.40 525.30 507.60 525.32 507.80 525.33 508.00 525.34 508.20 525.35 508.40 525.36 508.60 525.37 508.80 525.37 509.00 525.38 509.20 525.38 509.40 525.39 509.60 525.39 509.80 525.39 510.00 525.40 510.20 525.40 510.40 525.40 510.60 525.41 510.80 525.41 511.00 525.41 511.20 525.41 511.40 525.40 511.60 525.40 511.80 525.39 512.00 525.38 512.20 525.36 512.40 525.34 512.60 525.31 512.80 525.27 513.00 525.22 513.20 525.15 513.40 525.07 513.60 524.96 513.80 524.82 514.00 524.66 514.20 524.45 514.40 524.20 514.60 523.89 514.80 523.52 515.00 523.07 515.20 522.55 515.40 521.93 515.60 521.20 515.80 520.36 516.00 519.40 516.20 518.29 516.40 517.03 516.60 515.62 516.80 514.04 517.00 512.29 517.20 510.37 517.40 508.27 517.60 506.01 517.80 503.58 518.00 501.00 518.20 498.29 518.40 495.46 518.60 492.54 518.80 489.57 519.00 486.56 519.20 483.56 519.40 480.62 519.60 477.76 519.80 475.03 520.00 472.47 520.20 470.13 520.40 468.04 520.60 466.24 520.80 464.76 521.00 463.63 521.20 462.86 521.40 462.48 521.60 462.48 521.80 462.87 522.00 463.65 522.20 464.79 522.40 466.28 522.60 468.09 522.80 470.18 523.00 472.53 523.20 475.10 523.40 477.83 523.60 480.70 523.80 483.66 524.00 486.66 524.20 489.67 524.40 492.66 524.60 495.58 524.80 498.42 525.00 501.14 525.20 503.73 525.40 506.16 525.60 508.44 525.80 510.54 526.00 512.47 526.20 514.23 526.40 515.82 526.60 517.24 526.80 518.50 527.00 519.62 527.20 520.59 527.40 521.44 527.60 522.17 527.80 522.80 528.00 523.33 528.20 523.79 528.40 524.16 528.60 524.48 528.80 524.74 529.00 524.96 529.20 525.13 529.40 525.28 529.60 525.39 529.80 525.49 530.00 525.56 530.20 525.62 530.40 525.67 530.60 525.71 530.80 525.74 531.00 525.76 531.20 525.78 531.40 525.80 531.60 525.81 531.80 525.82 532.00 525.83 532.20 525.83 532.40 525.84 532.60 525.85 532.80 525.85 533.00 525.86 533.20 525.86 533.40 525.87 533.60 525.87 533.80 525.88 534.00 525.88 534.20 525.88 534.40 525.89 534.60 525.89 534.80 525.90 535.00 525.90 535.20 525.90 535.40 525.91 535.60 525.91 535.80 525.92 536.00 525.92 536.20 525.92 536.40 525.93 536.60 525.93 536.80 525.94 537.00 525.94 537.20 525.94 537.40 525.95 537.60 525.95 537.80 525.96 538.00 525.96 538.20 525.96 538.40 525.97 538.60 525.97 538.80 525.98 539.00 525.98 539.20 525.98 539.40 525.99 539.60 525.99 539.80 526.00 540.00 526.00 540.20 526.00 540.40 526.01 540.60 526.01 540.80 526.02 541.00 526.02 541.20 526.02 541.40 526.03 541.60 526.03 541.80 526.04 542.00 526.04" clip-path="url(#cp)" stroke="#4646b4" stroke-width="0.7" fill="none" stroke-linejoin="round"/>
<path d="M436.9 525.4L485 525.5L542 526.1" stroke="#dc8fdc" stroke-width="0.75" fill="none"/>
<path d="M436.9 524V527M485.6 524V527M509.6 524V527M466.5 524.5V526.5" stroke="#333" stroke-width="0.6"/>
<g font-size="4.6" font-weight="bold" fill="#111"><text x="458.2" y="428.3">Delta 8</text><text x="458.2" y="434.6">THC</text><text x="438.6" y="532.6">D9</text><text x="438.6" y="538.8">THC</text><text x="495" y="534.8">Delta 10 THC</text></g>
<g font-size="4.6" fill="#333" clip-path="url(#cp)"><text transform="translate(456.3,394.6) rotate(-90)">7.545</text><text transform="translate(523.2,459.8) rotate(-90)">9.039</text><text transform="translate(501,488) rotate(-90)">8.533</text><text transform="translate(422,521.3) rotate(-90)">6.767</text><text transform="translate(429,521.3) rotate(-90)">6.930</text><text transform="translate(252,517.3) rotate(-90)">3.005</text></g>
</g></svg>
<div class="a" style="top:579.34px;font-size:12.59px;left:557.50px;width:400px;text-align:center;">Delta-</div>
<div class="a" style="top:591.64px;font-size:12.59px;left:557.50px;width:400px;text-align:center;">8-THC</div>
<div class="a" style="top:579.34px;font-size:12.59px;left:602.00px;width:400px;text-align:center;">THC</div>
<div class="a" style="top:579.34px;font-size:12.59px;left:647.00px;width:400px;text-align:center;">Delta-</div>
<div class="a" style="top:591.64px;font-size:12.59px;left:647.00px;width:400px;text-align:center;">10-</div>
<div class="a" style="top:603.94px;font-size:12.59px;left:647.00px;width:400px;text-align:center;">THC</div>
<div class="a" style="top:624.14px;font-size:12.59px;left:557.50px;width:400px;text-align:center;">64.35</div>
<div class="a" style="top:624.14px;font-size:12.59px;left:602.00px;width:400px;text-align:center;">0.29</div>
<div class="a" style="top:624.14px;font-size:12.59px;left:647.00px;width:400px;text-align:center;">25.46</div>
<div class="a" style="top:727.75px;font-size:35.98px;left:41.50px;width:400px;text-align:center;">0.29%</div>
<div class="a" style="top:779.17px;font-size:17.99px;left:41.80px;width:400px;text-align:center;">Calculated THC Yield</div>
<div class="a" style="top:878.85px;font-size:35.98px;left:41.50px;width:400px;text-align:center;">0.00%</div>
<div class="a" style="top:930.27px;font-size:17.99px;left:41.80px;width:400px;text-align:center;">Calculated CBD Yield</div>
<div class="a" style="top:1029.95px;font-size:35.98px;left:41.50px;width:400px;text-align:center;">90.10%</div>
<div class="a" style="top:1081.37px;font-size:17.99px;left:41.80px;width:400px;text-align:center;">Total Cannabinoids</div>
<div class="a" style="top:704.97px;font-size:17.99px;left:474.20px;font-weight:bold;">Cannabinoid</div>
<div class="a" style="top:704.97px;font-size:17.99px;right:280.40px;font-weight:bold;">% wt</div>
<div class="a" style="top:704.97px;font-size:17.99px;right:133.00px;font-weight:bold;">mg/g</div>
<div class="a" style="top:731.97px;font-size:17.99px;left:474.20px;">Delta-8-THC</div>
<div class="a" style="top:731.97px;font-size:17.99px;right:280.40px;">64.35</div>
<div class="a" style="top:731.97px;font-size:17.99px;right:133.00px;">643.5</div>
<div class="a" style="top:756.97px;font-size:17.99px;left:474.20px;">THC</div>
<div class="a" style="top:756.97px;font-size:17.99px;right:280.40px;">0.29</div>
<div class="a" style="top:756.97px;font-size:17.99px;right:133.00px;">2.9</div>
<div class="a" style="top:781.97px;font-size:17.99px;left:474.20px;">Delta-10-THC</div>
<div class="a" style="top:781.97px;font-size:17.99px;right:280.40px;">25.46</div>
<div class="a" style="top:781.97px;font-size:17.99px;right:133.00px;">254.6</div>
<div class="a" style="top:810.97px;font-size:17.99px;left:474.20px;font-weight:bold;">Total Cannabinoids</div>
<div class="a" style="top:810.97px;font-size:17.99px;right:280.40px;font-weight:bold;">90.10</div>
<div class="a" style="top:810.97px;font-size:17.99px;right:133.00px;font-weight:bold;">901.0</div>
<div class="a" style="top:839.97px;font-size:17.99px;left:474.20px;font-weight:bold;">Calculated THC Yield</div>
<div class="a" style="top:839.97px;font-size:17.99px;right:280.40px;font-weight:bold;">0.29</div>
<div class="a" style="top:839.97px;font-size:17.99px;right:133.00px;font-weight:bold;">2.90</div>
<div class="a" style="top:864.97px;font-size:17.99px;left:474.20px;font-weight:bold;">Calculated CBD Yield</div>
<div class="a" style="top:864.97px;font-size:17.99px;right:280.40px;font-weight:bold;">0.00</div>
<div class="a" style="top:864.97px;font-size:17.99px;right:133.00px;font-weight:bold;">0.00</div>
<div class="a" style="top:893.02px;font-size:14.39px;left:474.20px;">Calculated Maximum THC Yield = THC + 0.877 * THCA</div>
<div class="a" style="top:915.02px;font-size:14.39px;left:474.20px;">Calculated Maximum CBD Yield = CBD + 0.877 * CBDA</div>
<div class="a" style="top:1160.37px;font-size:17.99px;left:115.70px;width:400px;text-align:center;font-weight:bold;">Marin Analytics, LLC</div>
<div class="a" style="top:1179.12px;font-size:14.39px;left:115.50px;width:400px;text-align:center;">250 Bel Marin Keys Blvd, Suite D4</div>
<div class="a" style="top:1195.02px;font-size:14.39px;left:115.50px;width:400px;text-align:center;">Novato, CA 94949</div>
<div class="a" style="top:1216.82px;font-size:14.39px;left:115.50px;width:400px;text-align:center;">415-936-6477 / sarabiancalana1@gmail.com</div>
<div class="a" style="top:1201.82px;font-size:14.39px;left:602.00px;width:400px;text-align:center;font-weight:bold;">Sara Bianacalana</div>
<div class="a" style="top:1216.42px;font-size:14.39px;left:602.00px;width:400px;text-align:center;">Chief Scientist</div>
<svg style="left:0;top:0" width="1101" height="1425" viewBox="0 0 1101 1425"><path d="M690.0 1196.3C691.8 1195.4 697.2 1192.8 700.5 1190.9C703.9 1188.9 707.0 1186.8 710.0 1184.7C713.0 1182.6 715.9 1180.7 718.7 1178.5C721.5 1176.3 724.6 1173.9 726.7 1171.6C728.8 1169.4 730.2 1166.7 731.4 1165.1C732.7 1163.4 733.7 1162.2 734.1 1161.7" fill="none" stroke="#000" stroke-width="1.2" stroke-linecap="round" stroke-linejoin="round"/><path d="M708.2 1177.8C707.6 1177.4 706.2 1175.2 705.0 1175.3C703.9 1175.4 702.3 1176.7 701.4 1178.4C700.5 1180.0 699.4 1183.1 699.4 1185.1C699.5 1187.0 700.4 1188.8 701.6 1190.2C702.9 1191.5 704.8 1193.2 707.1 1193.4C709.3 1193.6 712.8 1192.4 715.1 1191.2C717.4 1190.1 719.1 1188.3 720.9 1186.5C722.6 1184.7 724.2 1182.6 725.6 1180.3C727.0 1178.0 728.6 1174.0 729.2 1172.7" fill="none" stroke="#000" stroke-width="1.2" stroke-linecap="round" stroke-linejoin="round"/><path d="M708.2 1177.8C708.3 1178.4 709.1 1180.1 708.9 1181.4C708.7 1182.8 707.9 1184.5 707.1 1185.8C706.3 1187.1 704.8 1188.2 704.2 1189.1C703.5 1190.0 702.8 1190.7 703.1 1191.2C703.4 1191.8 705.5 1192.2 706.0 1192.3" fill="none" stroke="#000" stroke-width="1.0" stroke-linecap="round" stroke-linejoin="round"/><path d="M734.1 1161.7C733.8 1162.2 733.1 1163.2 732.4 1165.1C731.7 1167.0 730.7 1170.4 729.8 1173.1C729.0 1175.7 728.0 1178.5 727.2 1181.1C726.4 1183.6 725.6 1186.5 725.0 1188.3C724.5 1190.2 724.1 1191.7 723.9 1192.3" fill="none" stroke="#000" stroke-width="2.1" stroke-linecap="round" stroke-linejoin="round"/><path d="M723.9 1192.3C724.3 1192.4 724.9 1194.1 725.8 1192.9C726.8 1191.8 728.0 1188.0 729.6 1185.4C731.2 1182.9 734.0 1179.6 735.4 1177.8C736.8 1176.0 737.9 1174.4 738.0 1174.8C738.2 1175.1 737.1 1178.0 736.3 1180.0C735.5 1181.9 734.2 1184.5 733.4 1186.5C732.6 1188.5 731.7 1191.0 731.6 1192.1C731.6 1193.3 732.1 1194.3 733.2 1193.4C734.4 1192.4 736.5 1188.6 738.3 1186.5C740.1 1184.4 742.2 1182.3 744.1 1180.9C746.1 1179.4 749.3 1177.4 750.1 1177.7C750.8 1177.9 749.4 1180.4 748.6 1182.2C747.9 1183.9 746.5 1186.3 745.7 1188.0C745.0 1189.7 744.2 1191.7 744.3 1192.3C744.4 1192.9 745.3 1192.8 746.5 1191.6C747.7 1190.4 749.9 1186.9 751.4 1185.1C753.0 1183.3 754.4 1181.8 755.8 1180.9C757.1 1179.9 759.2 1178.4 759.5 1179.1C759.9 1179.8 758.7 1183.2 758.1 1185.1C757.5 1186.9 756.2 1188.9 755.9 1190.2C755.6 1191.4 755.6 1192.5 756.3 1192.5C757.1 1192.5 759.6 1190.4 760.3 1190.0" fill="none" stroke="#000" stroke-width="1.4" stroke-linecap="round" stroke-linejoin="round"/><path d="M738.0 1174.8C737.6 1175.9 736.5 1178.5 735.4 1181.4C734.4 1184.3 732.3 1190.3 731.6 1192.1" fill="none" stroke="#000" stroke-width="2.0" stroke-linecap="round" stroke-linejoin="round"/><path d="M750.1 1177.7C749.7 1178.8 748.4 1181.9 747.4 1184.3C746.4 1186.8 744.8 1191.0 744.3 1192.3" fill="none" stroke="#000" stroke-width="2.0" stroke-linecap="round" stroke-linejoin="round"/><path d="M759.5 1179.1C759.2 1180.1 758.2 1183.1 757.6 1185.1C757.0 1187.0 756.2 1189.9 755.9 1190.9" fill="none" stroke="#000" stroke-width="2.0" stroke-linecap="round" stroke-linejoin="round"/><path d="M766.2 1190.2C766.6 1189.1 767.8 1185.8 768.7 1183.6C769.6 1181.4 770.4 1179.5 771.6 1177.1C772.8 1174.7 774.4 1171.3 776.0 1169.1C777.6 1166.8 779.5 1164.9 781.1 1163.6C782.7 1162.4 784.1 1161.8 785.4 1161.5C786.7 1161.1 788.2 1161.4 788.9 1161.7C789.6 1162.0 789.5 1163.0 789.7 1163.3" fill="none" stroke="#000" stroke-width="1.0" stroke-linecap="round" stroke-linejoin="round"/><path d="M789.7 1163.3C789.2 1164.1 788.0 1166.5 787.0 1168.4C786.1 1170.2 785.0 1172.2 784.1 1174.2C783.3 1176.1 782.5 1178.1 781.8 1180.0C781.1 1181.9 780.5 1184.5 780.2 1185.4" fill="none" stroke="#000" stroke-width="2.1" stroke-linecap="round" stroke-linejoin="round"/><path d="M780.2 1185.1C779.4 1185.9 777.4 1188.9 775.6 1190.0C773.9 1191.1 771.3 1191.6 769.8 1191.6C768.3 1191.6 766.8 1190.8 766.4 1189.8C766.0 1188.8 766.5 1186.7 767.3 1185.4C768.0 1184.2 769.8 1182.7 770.9 1182.3C772.0 1181.9 773.7 1182.5 774.0 1183.3C774.2 1184.0 773.3 1186.1 772.5 1186.9C771.7 1187.7 770.0 1187.8 769.4 1188.0" fill="none" stroke="#000" stroke-width="2.2" stroke-linecap="round" stroke-linejoin="round"/><path d="M768.0 1186.5C768.8 1186.3 771.5 1185.6 773.1 1185.1C774.7 1184.6 776.7 1183.9 777.4 1183.6" fill="none" stroke="#000" stroke-width="2.0" stroke-linecap="round" stroke-linejoin="round"/><path d="M793.6 1168.5C793.4 1169.5 792.7 1173.5 792.6 1174.5" fill="none" stroke="#000" stroke-width="1.0" stroke-linecap="round" stroke-linejoin="round"/><path d="M790.2 1175.3C789.5 1176.7 787.6 1180.8 786.3 1183.6C785.0 1186.4 782.9 1190.6 782.2 1192.0" fill="none" stroke="#000" stroke-width="1.7" stroke-linecap="round" stroke-linejoin="round"/><path d="M788.3 1192.3C788.9 1191.1 790.4 1187.3 792.0 1185.1C793.6 1182.8 796.3 1179.9 797.8 1178.7C799.3 1177.4 800.7 1176.7 800.8 1177.4C801.0 1178.2 799.7 1180.9 798.9 1183.3C798.0 1185.6 795.5 1191.2 795.8 1191.5C796.1 1191.8 798.9 1186.8 800.7 1185.1C802.5 1183.3 804.8 1181.4 806.5 1180.9C808.2 1180.3 810.6 1180.5 810.9 1181.6C811.1 1182.6 809.2 1185.4 808.1 1187.2C807.0 1189.1 804.7 1192.1 804.5 1192.9C804.2 1193.8 805.4 1193.4 806.5 1192.3C807.6 1191.3 809.4 1188.2 810.9 1186.5C812.3 1184.9 814.6 1183.0 815.4 1182.3" fill="none" stroke="#000" stroke-width="1.6" stroke-linecap="round" stroke-linejoin="round"/><path d="M800.7 1177.7C800.2 1178.0 798.5 1178.7 797.8 1180.0C797.1 1181.2 796.3 1184.0 796.3 1185.1C796.3 1186.2 797.2 1187.0 797.8 1186.5C798.4 1186.0 799.6 1182.9 800.0 1182.2" fill="none" stroke="#000" stroke-width="2.2" stroke-linecap="round" stroke-linejoin="round"/><path d="M810.9 1181.6C810.4 1182.5 809.0 1185.4 808.0 1187.2C806.9 1189.1 805.1 1192.0 804.5 1192.9" fill="none" stroke="#000" stroke-width="2.3" stroke-linecap="round" stroke-linejoin="round"/><path d="M815.4 1182.3C816.1 1181.9 818.1 1180.4 819.7 1180.1C821.4 1179.9 825.3 1180.4 825.4 1180.9C825.5 1181.3 821.7 1181.9 820.3 1182.9C819.0 1183.8 818.2 1185.3 817.4 1186.5C816.6 1187.7 815.4 1189.1 815.4 1190.2C815.4 1191.2 816.3 1192.8 817.6 1192.9C818.8 1193.0 821.1 1192.2 822.6 1190.9C824.2 1189.6 825.3 1186.6 827.0 1185.1C828.7 1183.5 831.0 1182.2 832.7 1181.6C834.4 1181.0 837.2 1180.6 837.2 1181.4C837.2 1182.3 834.4 1184.9 832.8 1186.5C831.2 1188.1 828.2 1189.9 827.7 1190.9C827.2 1191.9 828.5 1192.7 829.9 1192.3C831.3 1192.0 834.6 1189.9 836.3 1188.7C838.0 1187.5 839.3 1185.7 839.9 1185.1" fill="none" stroke="#000" stroke-width="1.7" stroke-linecap="round" stroke-linejoin="round"/><path d="M825.4 1180.9C824.4 1181.3 821.2 1182.2 819.6 1183.6C818.0 1185.0 816.6 1188.5 816.0 1189.4" fill="none" stroke="#000" stroke-width="2.4" stroke-linecap="round" stroke-linejoin="round"/><path d="M837.2 1181.4C836.3 1182.3 833.5 1184.9 831.9 1186.5C830.4 1188.2 828.4 1190.5 827.7 1191.2" fill="none" stroke="#000" stroke-width="2.2" stroke-linecap="round" stroke-linejoin="round"/><path d="M825.0 1186.0C825.9 1185.5 829.1 1183.6 830.4 1183.2C831.8 1182.9 833.7 1183.4 833.4 1184.2C833.1 1184.9 829.9 1186.6 828.6 1187.8C827.4 1189.0 825.8 1190.6 825.9 1191.2C826.1 1191.9 828.3 1192.6 829.5 1191.9C830.8 1191.2 832.6 1187.3 833.2 1187.1C833.7 1186.8 832.4 1189.6 832.7 1190.5C833.0 1191.4 834.2 1192.3 835.0 1192.3C835.8 1192.3 836.1 1192.5 837.7 1190.5C839.4 1188.5 842.6 1183.7 845.0 1180.5C847.4 1177.3 850.2 1173.6 852.2 1171.4C854.3 1169.3 856.9 1167.5 857.2 1167.8C857.5 1168.1 855.5 1170.8 854.1 1173.3C852.6 1175.7 850.4 1179.5 848.6 1182.3C846.8 1185.2 844.7 1188.4 843.2 1190.5C841.7 1192.6 840.0 1194.2 839.5 1195.1C839.1 1195.9 839.7 1195.8 840.6 1195.6C841.5 1195.4 843.5 1195.1 845.0 1194.1C846.5 1193.1 848.0 1191.3 849.5 1189.6C851.0 1187.9 852.6 1185.4 854.1 1184.2C855.6 1182.9 857.5 1182.0 858.6 1181.9C859.7 1181.7 861.5 1182.7 860.9 1183.2C860.3 1183.8 856.6 1184.3 855.0 1185.2C853.4 1186.2 852.1 1187.7 851.3 1188.7C850.6 1189.7 850.1 1190.6 850.4 1191.0C850.8 1191.3 852.0 1191.6 853.3 1191.0C854.7 1190.3 857.3 1188.2 858.6 1186.9C859.9 1185.6 860.6 1183.2 860.9 1183.2C861.1 1183.2 860.0 1185.9 860.0 1186.9C859.9 1187.9 859.8 1189.0 860.6 1189.2C861.4 1189.3 864.2 1188.0 865.0 1187.8" fill="none" stroke="#000" stroke-width="1.5" stroke-linecap="round" stroke-linejoin="round"/><path d="M857.2 1167.8C856.4 1169.1 854.1 1172.4 852.2 1175.5C850.4 1178.6 847.9 1183.2 845.9 1186.4C843.8 1189.7 841.0 1193.6 840.0 1195.1" fill="none" stroke="#000" stroke-width="2.0" stroke-linecap="round" stroke-linejoin="round"/><path d="M860.6 1183.2C859.7 1183.7 856.6 1184.8 855.0 1186.0C853.4 1187.1 851.6 1189.4 850.9 1190.1" fill="none" stroke="#000" stroke-width="2.0" stroke-linecap="round" stroke-linejoin="round"/><path d="M865.0 1187.8C866.2 1187.6 869.8 1187.1 872.2 1186.9C874.7 1186.7 876.8 1186.6 879.5 1186.7C882.2 1186.8 887.1 1187.2 888.6 1187.3" fill="none" stroke="#000" stroke-width="1.3" stroke-linecap="round" stroke-linejoin="round"/><path d="M888.6 1187.3C890.8 1187.6 898.0 1188.2 902.2 1188.7C906.4 1189.2 911.0 1190.0 914.0 1190.3C917.0 1190.7 919.3 1190.9 920.4 1191.0" fill="none" stroke="#000" stroke-width="0.95" stroke-linecap="round" stroke-linejoin="round"/></svg>
<div class="a" style="top:1242.62px;font-size:10.84px;left:83.40px;">This sample has been tested by Marin Analytics, LLC using valid testing methodologies and a quality system.  Values reported relate only to the sample tested.  Marin Analytics, LLC makes no</div>
<div class="a" style="top:1253.52px;font-size:10.84px;left:83.40px;">claims as to the efficacy, safety or other risks associated with any detected or non-detected levels of any compounds reported herein.  This Certificate shall not be reproduced except in full, without</div>
<div class="a" style="top:1265.02px;font-size:10.84px;left:83.40px;">the written approval of Marin Analytics, LLC.</div>
</div></body></html>
